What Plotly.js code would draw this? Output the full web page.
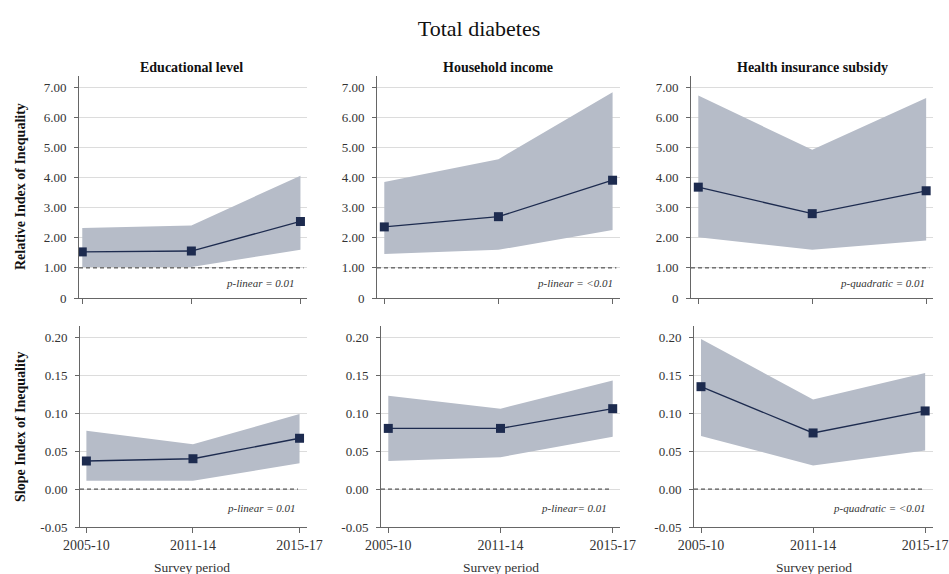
<!DOCTYPE html>
<html>
<head>
<meta charset="utf-8">
<script src="https://cdn.plot.ly/plotly-3.0.1.min.js"></script>
<style>html,body{margin:0;padding:0;background:#fff;}#chart{width:949px;height:574px;}</style>
</head>
<body>
<div id="chart"></div>
<script>
// ---- Data ----
const periods = ["2005-10", "2011-14", "2015-17"];
const panelTitles = ["Educational level", "Household income", "Health insurance subsidy"];

// Relative Index of Inequality (top row)
const riiEduEst = [1.53, 1.56, 2.54];
const riiEduLow = [1.03, 1.03, 1.60];
const riiEduUp  = [2.32, 2.41, 4.06];

const riiIncEst = [2.36, 2.70, 3.91];
const riiIncLow = [1.46, 1.60, 2.26];
const riiIncUp  = [3.85, 4.61, 6.83];

const riiInsEst = [3.68, 2.80, 3.56];
const riiInsLow = [2.02, 1.60, 1.91];
const riiInsUp  = [6.72, 4.92, 6.64];

// Slope Index of Inequality (bottom row)
const siiEduEst = [0.037, 0.040, 0.067];
const siiEduLow = [0.011, 0.011, 0.034];
const siiEduUp  = [0.077, 0.059, 0.099];

const siiIncEst = [0.080, 0.080, 0.106];
const siiIncLow = [0.037, 0.042, 0.069];
const siiIncUp  = [0.123, 0.106, 0.143];

const siiInsEst = [0.135, 0.074, 0.103];
const siiInsLow = [0.070, 0.031, 0.051];
const siiInsUp  = [0.198, 0.118, 0.153];

const pTexts = ["p-linear = 0.01", "p-linear = <0.01", "p-quadratic = 0.01",
                "p-linear = 0.01", "p-linear= 0.01", "p-quadratic = <0.01"];

const riiTicks = [0, 1, 2, 3, 4, 5, 6, 7];
const riiTickText = ["0", "1.00", "2.00", "3.00", "4.00", "5.00", "6.00", "7.00"];
const siiTicks = [-0.05, 0, 0.05, 0.10, 0.15, 0.20];
const siiTickText = ["-0.05", "0.00", "0.05", "0.10", "0.15", "0.20"];

const refRII = 1;
const refSII = 0;

// ---- Styling / layout ----
const W = 949, H = 574;
const px = x => x / W;
const py = y => 1 - y / H;
const FONT = "Liberation Serif";
const navy = "#1d2b4f";
const bandColor = "#b6bcc8";

const series = [
  [riiEduEst, riiEduLow, riiEduUp],
  [riiIncEst, riiIncLow, riiIncUp],
  [riiInsEst, riiInsLow, riiInsUp],
  [siiEduEst, siiEduLow, siiEduUp],
  [siiIncEst, siiIncLow, siiIncUp],
  [siiInsEst, siiInsLow, siiInsUp]
];

// pixel domains for each subplot
const xPix = [[79, 307], [377, 620], [691, 933], [80, 307], [381, 620], [694, 933]];
const xRanges = [[-0.03, 2.06], [-0.064, 2.065], [-0.064, 2.06], [-0.06, 2.07], [-0.065, 2.065], [-0.0625, 2.07]];
const yPixTop = [76, 298], yPixBot = [326, 527];

const traces = [];
const layout = {
  width: W, height: H,
  margin: {l: 0, r: 0, t: 0, b: 0},
  paper_bgcolor: "#fff", plot_bgcolor: "#fff",
  showlegend: false,
  font: {family: FONT, size: 13, color: "#333"},
  annotations: [], shapes: []
};

series.forEach((s, i) => {
  const n = i + 1;
  const xa = n === 1 ? "x" : "x" + n;
  const ya = n === 1 ? "y" : "y" + n;
  const top = i < 3;
  traces.push({x: periods, y: s[1], xaxis: xa, yaxis: ya, type: "scatter", mode: "lines",
               line: {width: 0, color: bandColor}, hoverinfo: "skip"});
  traces.push({x: periods, y: s[2], xaxis: xa, yaxis: ya, type: "scatter", mode: "lines",
               fill: "tonexty", fillcolor: bandColor, line: {width: 0, color: bandColor}, hoverinfo: "skip"});
  traces.push({x: periods, y: s[0], xaxis: xa, yaxis: ya, type: "scatter", mode: "lines+markers",
               line: {width: 1.3, color: navy}, marker: {symbol: "square", size: 9, color: navy}});

  const yp = top ? yPixTop : yPixBot;
  layout["xaxis" + (n === 1 ? "" : n)] = {
    domain: [px(xPix[i][0]), px(xPix[i][1])],
    anchor: ya, type: "category", range: xRanges[i],
    showgrid: false, zeroline: false,
    showline: true, linecolor: "#666", linewidth: 1,
    ticks: "outside", ticklen: 5, tickcolor: "#666",
    showticklabels: !top,
    tickfont: {family: FONT, size: 14, color: "#333"}
  };
  layout["yaxis" + (n === 1 ? "" : n)] = {
    domain: [py(yp[1]), py(yp[0])],
    anchor: xa,
    range: top ? [0, 7.37] : [-0.05, 0.215],
    tickvals: top ? riiTicks : siiTicks,
    ticktext: top ? riiTickText : siiTickText,
    showgrid: true, gridcolor: "#dcdcdc", gridwidth: 1,
    zeroline: false,
    showline: true, linecolor: "#666", linewidth: 1,
    ticks: "outside", ticklen: 4, tickcolor: "#666",
    ticklabelstandoff: 5,
    tickfont: {family: FONT, size: 13, color: "#333"}
  };
  // reference dashed line
  layout.shapes.push({type: "line", xref: xa + " domain", yref: ya,
    x0: 0, x1: (top ? 0.985 : 0.96), y0: top ? refRII : refSII, y1: top ? refRII : refSII,
    line: {color: "#333", width: 1, dash: "4px,3px"}});
});

// p-value annotations
const pPos = [[297, 283], [615, 283], [927, 283], [298, 508], [609, 508], [928, 508]];
pTexts.forEach((t, i) => {
  layout.annotations.push({text: "<i>" + t + "</i>", xref: "paper", yref: "paper",
    x: px(pPos[i][0]), y: py(pPos[i][1]), xanchor: "right", yanchor: "middle",
    showarrow: false, font: {family: FONT, size: 11, color: "#333"}});
});

// Panel titles
const titleX = [191, 498, 812];
panelTitles.forEach((t, i) => {
  layout.annotations.push({text: "<b>" + t + "</b>", xref: "paper", yref: "paper",
    x: px(titleX[i]), y: py(67), xanchor: "center", yanchor: "middle",
    showarrow: false, font: {family: FONT, size: 14, color: "#111"}});
});

// Survey period labels
const spX = [192, 501, 814];
spX.forEach(x => {
  layout.annotations.push({text: "Survey period", xref: "paper", yref: "paper",
    x: px(x), y: py(567), xanchor: "center", yanchor: "middle",
    showarrow: false, font: {family: FONT, size: 13.5, color: "#333"}});
});

// Y axis titles
layout.annotations.push({text: "<b>Relative Index of Inequality</b>", xref: "paper", yref: "paper",
  x: px(20), y: py(187), xanchor: "center", yanchor: "middle", textangle: -90,
  showarrow: false, font: {family: FONT, size: 14, color: "#111"}});
layout.annotations.push({text: "<b>Slope Index of Inequality</b>", xref: "paper", yref: "paper",
  x: px(20), y: py(427), xanchor: "center", yanchor: "middle", textangle: -90,
  showarrow: false, font: {family: FONT, size: 14, color: "#111"}});

// Main title
layout.title = {text: "Total diabetes", x: px(479), xanchor: "center", y: py(28), yanchor: "middle",
  yref: "container", xref: "container", font: {family: FONT, size: 22, color: "#111"}};

Plotly.newPlot("chart", traces, layout, {displayModeBar: false, staticPlot: true});
</script>
</body>
</html>
